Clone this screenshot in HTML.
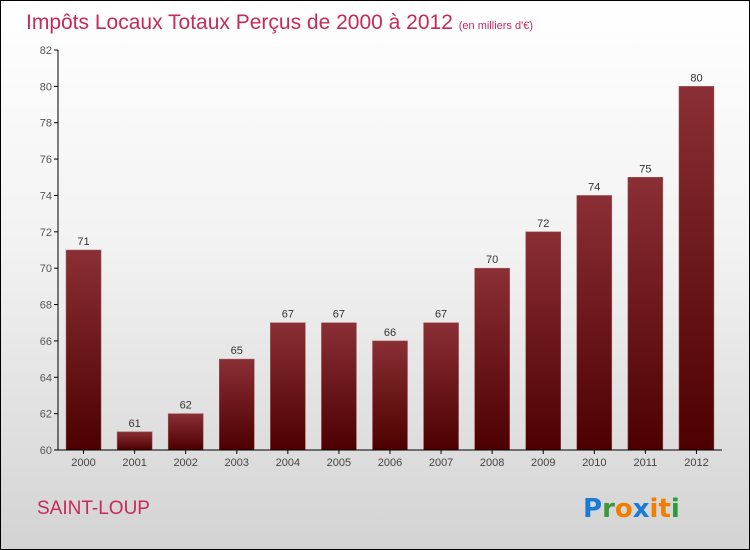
<!DOCTYPE html>
<html><head><meta charset="utf-8"><style>
body{margin:0}
#c{width:750px;height:550px;position:relative;box-sizing:border-box;border:1px solid #000;background:linear-gradient(#ffffff 0%,#f2f2f2 45%,#d3d3d3 100%);font-family:"Liberation Sans",sans-serif;overflow:hidden}
</style></head><body>
<div id="c">
<svg id="s" width="750" height="550" style="position:absolute;left:-1px;top:-1px">
<defs><linearGradient id="g" x1="0" y1="0" x2="0" y2="1"><stop offset="0" stop-color="#8a2f35"/><stop offset="1" stop-color="#4d0000"/></linearGradient></defs>
<text x="26" y="29" font-size="21" fill="#c8285a">Impôts Locaux Totaux Perçus de 2000 à 2012 <tspan font-size="11">(en milliers d'€)</tspan></text>
<text x="37" y="514" font-size="19" fill="#c8285a">SAINT-LOUP</text>
<g font-size="26" font-weight="bold" font-family="'DejaVu Sans',sans-serif">
<text x="583" y="517" fill="#1a7bd4">P<tspan fill="#3a9a3a">r</tspan><tspan fill="#f07d00">o</tspan><tspan fill="#1a7bd4">x</tspan><tspan fill="#f07d00">i</tspan><tspan fill="#f07d00">t</tspan><tspan fill="#2e9a3a">i</tspan></text>
</g>
</svg>
</div>
<script>
const years=["2000","2001","2002","2003","2004","2005","2006","2007","2008","2009","2010","2011","2012"];
const values=[71,61,62,65,67,67,66,67,70,72,74,75,80];
const yTicks=[60,62,64,66,68,70,72,74,76,78,80,82];
const NS="http://www.w3.org/2000/svg";
const s=document.getElementById('s');
const x0=58,x1=722,yTop=50,yBot=450,ymin=60,ymax=82;
const y=v=>yBot-(v-ymin)/(ymax-ymin)*(yBot-yTop);
const step=(x1-x0)/years.length;
const xc=i=>x0+step*(i+0.5);
function mk(t,a){const e=document.createElementNS(NS,t);for(const k in a)e.setAttribute(k,a[k]);s.appendChild(e);return e;}
yTicks.forEach(v=>{
const l=mk('line',{x1:x0-4,x2:x0,y1:y(v),y2:y(v),stroke:'#000'});


const t=mk('text',{x:x0-6,y:y(v)+4,'font-size':11,fill:'#555','text-anchor':'end'});t.textContent=v;


});
years.forEach((yr,i)=>{
const v=values[i];
const r=mk('rect',{x:xc(i)-17.5,y:y(v),width:35,height:yBot-y(v),fill:'url(#g)',stroke:'#a05a5a','stroke-width':0.5});


const t=mk('text',{x:xc(i),y:y(v)-5,'font-size':11,fill:'#333','text-anchor':'middle'});t.textContent=v;


const tk=mk('line',{x1:xc(i),x2:xc(i),y1:yBot,y2:yBot+4,stroke:'#000'});


const xl=mk('text',{x:xc(i),y:yBot+16,'font-size':11,fill:'#444','text-anchor':'middle'});xl.textContent=yr;


});
const ya=mk('line',{x1:x0,x2:x0,y1:yTop,y2:yBot,stroke:'#000'});


const xa=mk('line',{x1:x0,x2:x1,y1:yBot,y2:yBot,stroke:'#000'});


</script>
</body></html>
